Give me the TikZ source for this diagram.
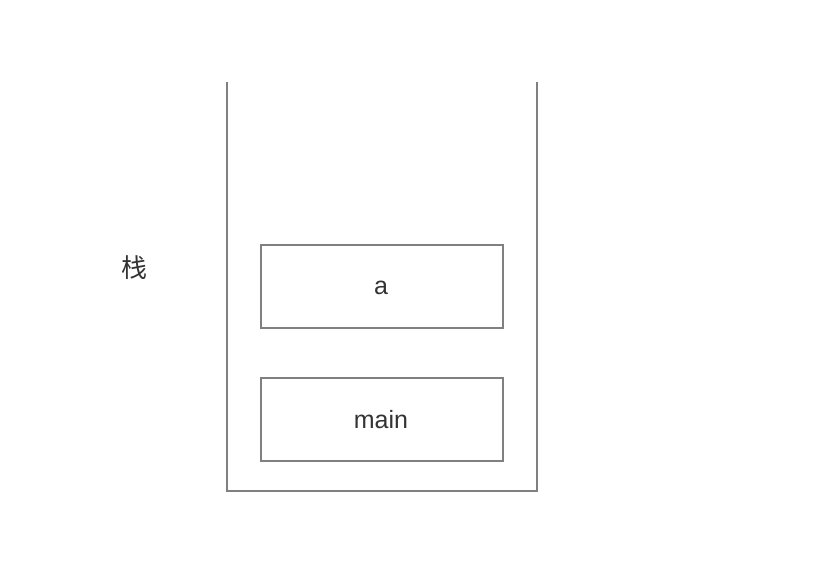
\documentclass[tikz,border=0pt]{standalone}
\usepackage{fontspec}
\setmainfont{Liberation Sans}
\newfontfamily\cjk{Noto Sans CJK SC}
\definecolor{linegray}{HTML}{808080}
\definecolor{textgray}{HTML}{333333}
\begin{document}
\begin{tikzpicture}[x=0.5pt,y=-0.5pt,
  frame/.style={draw=linegray,line width=1pt},
  cell/.style={draw=linegray,line width=1pt,minimum width=121pt,minimum height=41.5pt,inner sep=0pt},
  celltext/.style={text=textgray,font=\fontsize{12.5pt}{15pt}\selectfont,inner sep=0pt},
  lbl/.style={text=textgray,font=\cjk\fontsize{13pt}{15pt}\selectfont,inner sep=0pt}]
\useasboundingbox (0,0) rectangle (820,562);
\coordinate (tl) at (227,82);
\coordinate (bl) at (227,491);
\coordinate (br) at (537,491);
\coordinate (tr) at (537,82);
\draw[frame] (tl) -- (bl) -- (br) -- (tr);
\node[cell] (a) at (382,286.5) {};
\node[cell] (main) at (382,419) {};
\node[celltext] (atext) at (381,288) {a};
\node[celltext] (maintext) at (381,419.5) {main};
\node[lbl] (stack) at (134,268) {栈};
\end{tikzpicture}
\end{document}
